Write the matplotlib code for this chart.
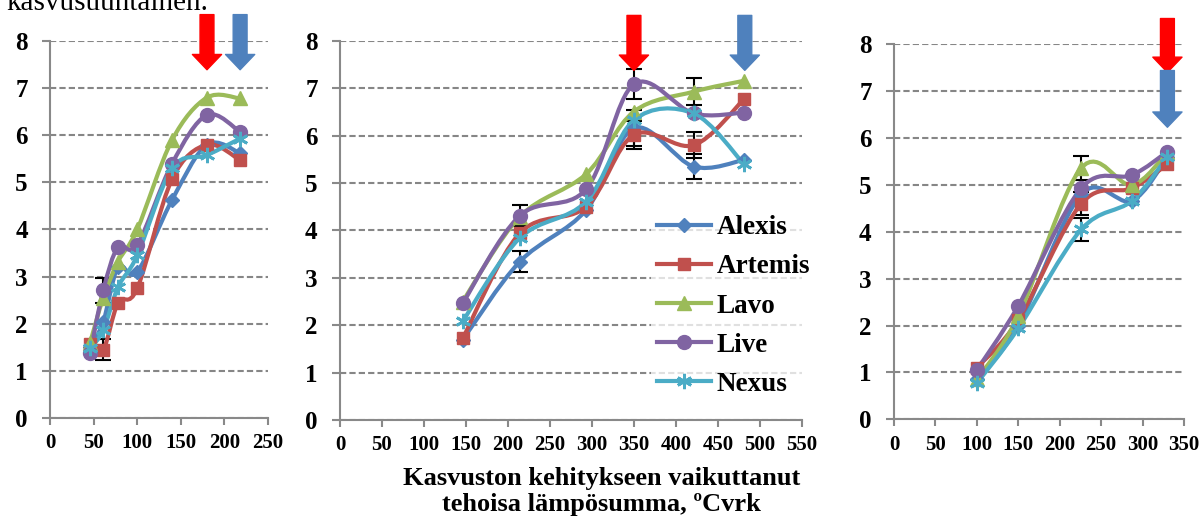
import numpy as np
import matplotlib
matplotlib.use('Agg')
import matplotlib.pyplot as plt
from matplotlib.path import Path
from matplotlib.patches import PathPatch
from matplotlib.lines import Line2D

plt.rcParams['font.family'] = ['Liberation Serif', 'DejaVu Serif']
plt.rcParams['font.weight'] = 'bold'

varieties = ['Alexis', 'Artemis', 'Lavo', 'Live', 'Nexus']
colors = ['#4F81BD', '#C0504D', '#9BBB59', '#8064A2', '#4BACC6']
markers = ['D', 's', '^', 'o', (6, 2, 0)]
msizes = [7, 9, 10, 10, 11]

# panel 1
x1 = [46, 61, 78, 100, 140, 180, 218]
y1 = {
    'Alexis':  [1.50, 2.04, 3.20, 3.10, 4.63, 5.80, 5.62],
    'Artemis': [1.58, 1.45, 2.44, 2.75, 5.07, 5.80, 5.47],
    'Lavo':    [1.60, 2.55, 3.32, 4.00, 5.90, 6.80, 6.78],
    'Live':    [1.37, 2.71, 3.63, 3.67, 5.40, 6.43, 6.07],
    'Nexus':   [1.48, 1.86, 2.78, 3.45, 5.30, 5.58, 5.93],
}
e1 = {
    'Artemis': [np.nan, 0.23, np.nan, np.nan, np.nan, np.nan, np.nan],
    'Live':    [np.nan, 0.27, np.nan, np.nan, np.nan, np.nan, np.nan],
}

# panel 2
x2 = [146, 214, 293, 350, 421, 481]
y2 = {
    'Alexis':  [1.69, 3.34, 4.43, 6.16, 5.35, 5.49],
    'Artemis': [1.72, 3.94, 4.50, 6.02, 5.80, 6.77],
    'Lavo':    [2.50, 4.29, 5.19, 6.51, 6.93, 7.16],
    'Live':    [2.46, 4.31, 4.87, 7.09, 6.47, 6.49],
    'Nexus':   [2.08, 3.84, 4.61, 6.33, 6.47, 5.40],
}
e2 = {
    'Alexis':  [np.nan, 0.22, np.nan, 0.38, 0.27, np.nan],
    'Artemis': [np.nan, np.nan, np.nan, 0.30, 0.28, np.nan],
    'Lavo':    [np.nan, np.nan, np.nan, np.nan, 0.28, np.nan],
    'Live':    [np.nan, 0.22, np.nan, 0.31, np.nan, np.nan],
}

# panel 3
x3 = [100, 150, 226, 287, 330]
y3 = {
    'Alexis':  [0.85, 2.00, 4.80, 4.66, 5.60],
    'Artemis': [1.10, 2.12, 4.60, 4.93, 5.44],
    'Lavo':    [0.85, 2.20, 5.36, 5.00, 5.70],
    'Live':    [1.05, 2.42, 4.93, 5.21, 5.71],
    'Nexus':   [0.77, 1.94, 4.05, 4.66, 5.60],
}
e3 = {
    'Artemis': [np.nan, np.nan, 0.25, np.nan, np.nan],
    'Lavo':    [np.nan, np.nan, 0.25, np.nan, np.nan],
    'Nexus':   [np.nan, np.nan, 0.25, np.nan, np.nan],
}

# arrows: (x, top, tip, colour)
arrows1 = [(180, 8.56, 7.39, '#FF0000'), (218, 8.56, 7.39, '#4F81BD')]
arrows2 = [(350, 8.54, 7.38, '#FF0000'), (482, 8.54, 7.38, '#4F81BD')]
arrows3 = [(330, 8.55, 7.40, '#FF0000'), (330, 7.44, 6.23, '#4F81BD')]

xmax = [250, 550, 350]


def smooth_path(x, y):
    # excel style smoothed line (catmull-rom as bezier)
    pts = np.column_stack([x, y]).astype(float)
    n = len(pts)
    verts = [pts[0]]
    codes = [Path.MOVETO]
    for i in range(n - 1):
        p0 = pts[max(i - 1, 0)]
        p1 = pts[i]
        p2 = pts[i + 1]
        p3 = pts[min(i + 2, n - 1)]
        verts += [p1 + (p2 - p0) / 6, p2 - (p3 - p1) / 6, p2]
        codes += [Path.CURVE4] * 3
    return Path(verts, codes)


def draw_panel(ax, x, ys, errs, arrows, xm):
    for name, c, m, ms in zip(varieties, colors, markers, msizes):
        y = ys[name]
        if name in errs:
            ax.errorbar(x, y, yerr=errs[name], fmt='none', ecolor='black',
                        elinewidth=1.5, capsize=6, capthick=1.5, zorder=2)
        ax.add_patch(PathPatch(smooth_path(x, y), fill=False, edgecolor=c,
                               lw=3, zorder=3, capstyle='round'))
        ax.plot(x, y, ls='none', marker=m, ms=ms, color=c,
                mew=2 if name == 'Nexus' else 1, zorder=4)

    for xa, top, tip, c in arrows:
        ax.annotate('', xy=(xa, tip), xytext=(xa, top), annotation_clip=False,
                    arrowprops=dict(width=10, headwidth=21, headlength=11,
                                    color=c, shrink=0), zorder=5)

    ax.set_xlim(0, xm)
    ax.set_ylim(0, 8)
    ax.set_xticks(np.arange(0, xm + 1, 50))
    ax.set_yticks(np.arange(0, 9, 1))
    ax.yaxis.grid(True, color='#868686', lw=1.5, linestyle=(0, (3, 1.5)))
    ax.set_axisbelow(True)
    for s in ['top', 'right']:
        ax.spines[s].set_visible(False)
    for s in ['left', 'bottom']:
        ax.spines[s].set_color('#898989')
        ax.spines[s].set_linewidth(1.5)
    ax.tick_params(axis='y', length=6, width=1.5, color='#898989',
                   labelsize=18, pad=10)
    ax.tick_params(axis='x', length=5, width=1.5, color='#898989',
                   labelsize=15, pad=6)
    for lab in ax.get_xticklabels() + ax.get_yticklabels():
        lab.set_fontweight('bold')


fig = plt.figure(figsize=(12.03, 5.23), dpi=100)
ax1 = fig.add_axes([0.0416, 0.2008, 0.1812, 0.7208])
ax2 = fig.add_axes([0.2826, 0.1970, 0.3840, 0.7246])
ax3 = fig.add_axes([0.7431, 0.1983, 0.2411, 0.7170])

draw_panel(ax1, x1, y1, e1, arrows1, xmax[0])
draw_panel(ax2, x2, y2, e2, arrows2, xmax[1])
draw_panel(ax3, x3, y3, e3, arrows3, xmax[2])

handles = [Line2D([0], [0], color=c, lw=3, marker=m, ms=ms,
                  mew=2 if n == 'Nexus' else 1)
           for n, c, m, ms in zip(varieties, colors, markers, msizes)]
ax2.legend(handles, varieties, loc='upper left', bbox_to_anchor=(0.645, 0.59),
           frameon=True, framealpha=0.75, edgecolor='none', facecolor='white',
           handlelength=2.0, handletextpad=0.2, labelspacing=0.52,
           borderpad=0.2, prop={'weight': 'bold', 'size': 19.5})

fig.text(0.005, 0.98, 'kasvusuuntainen.', fontsize=21, fontweight='normal',
         va='baseline', ha='left')
fig.text(0.5, 0.108, 'Kasvuston kehitykseen vaikuttanut\ntehoisa lämpösumma, ºCvrk',
         fontsize=19, fontweight='bold', ha='center', va='top',
         linespacing=1.2)

fig.savefig('out.png', dpi=100)
